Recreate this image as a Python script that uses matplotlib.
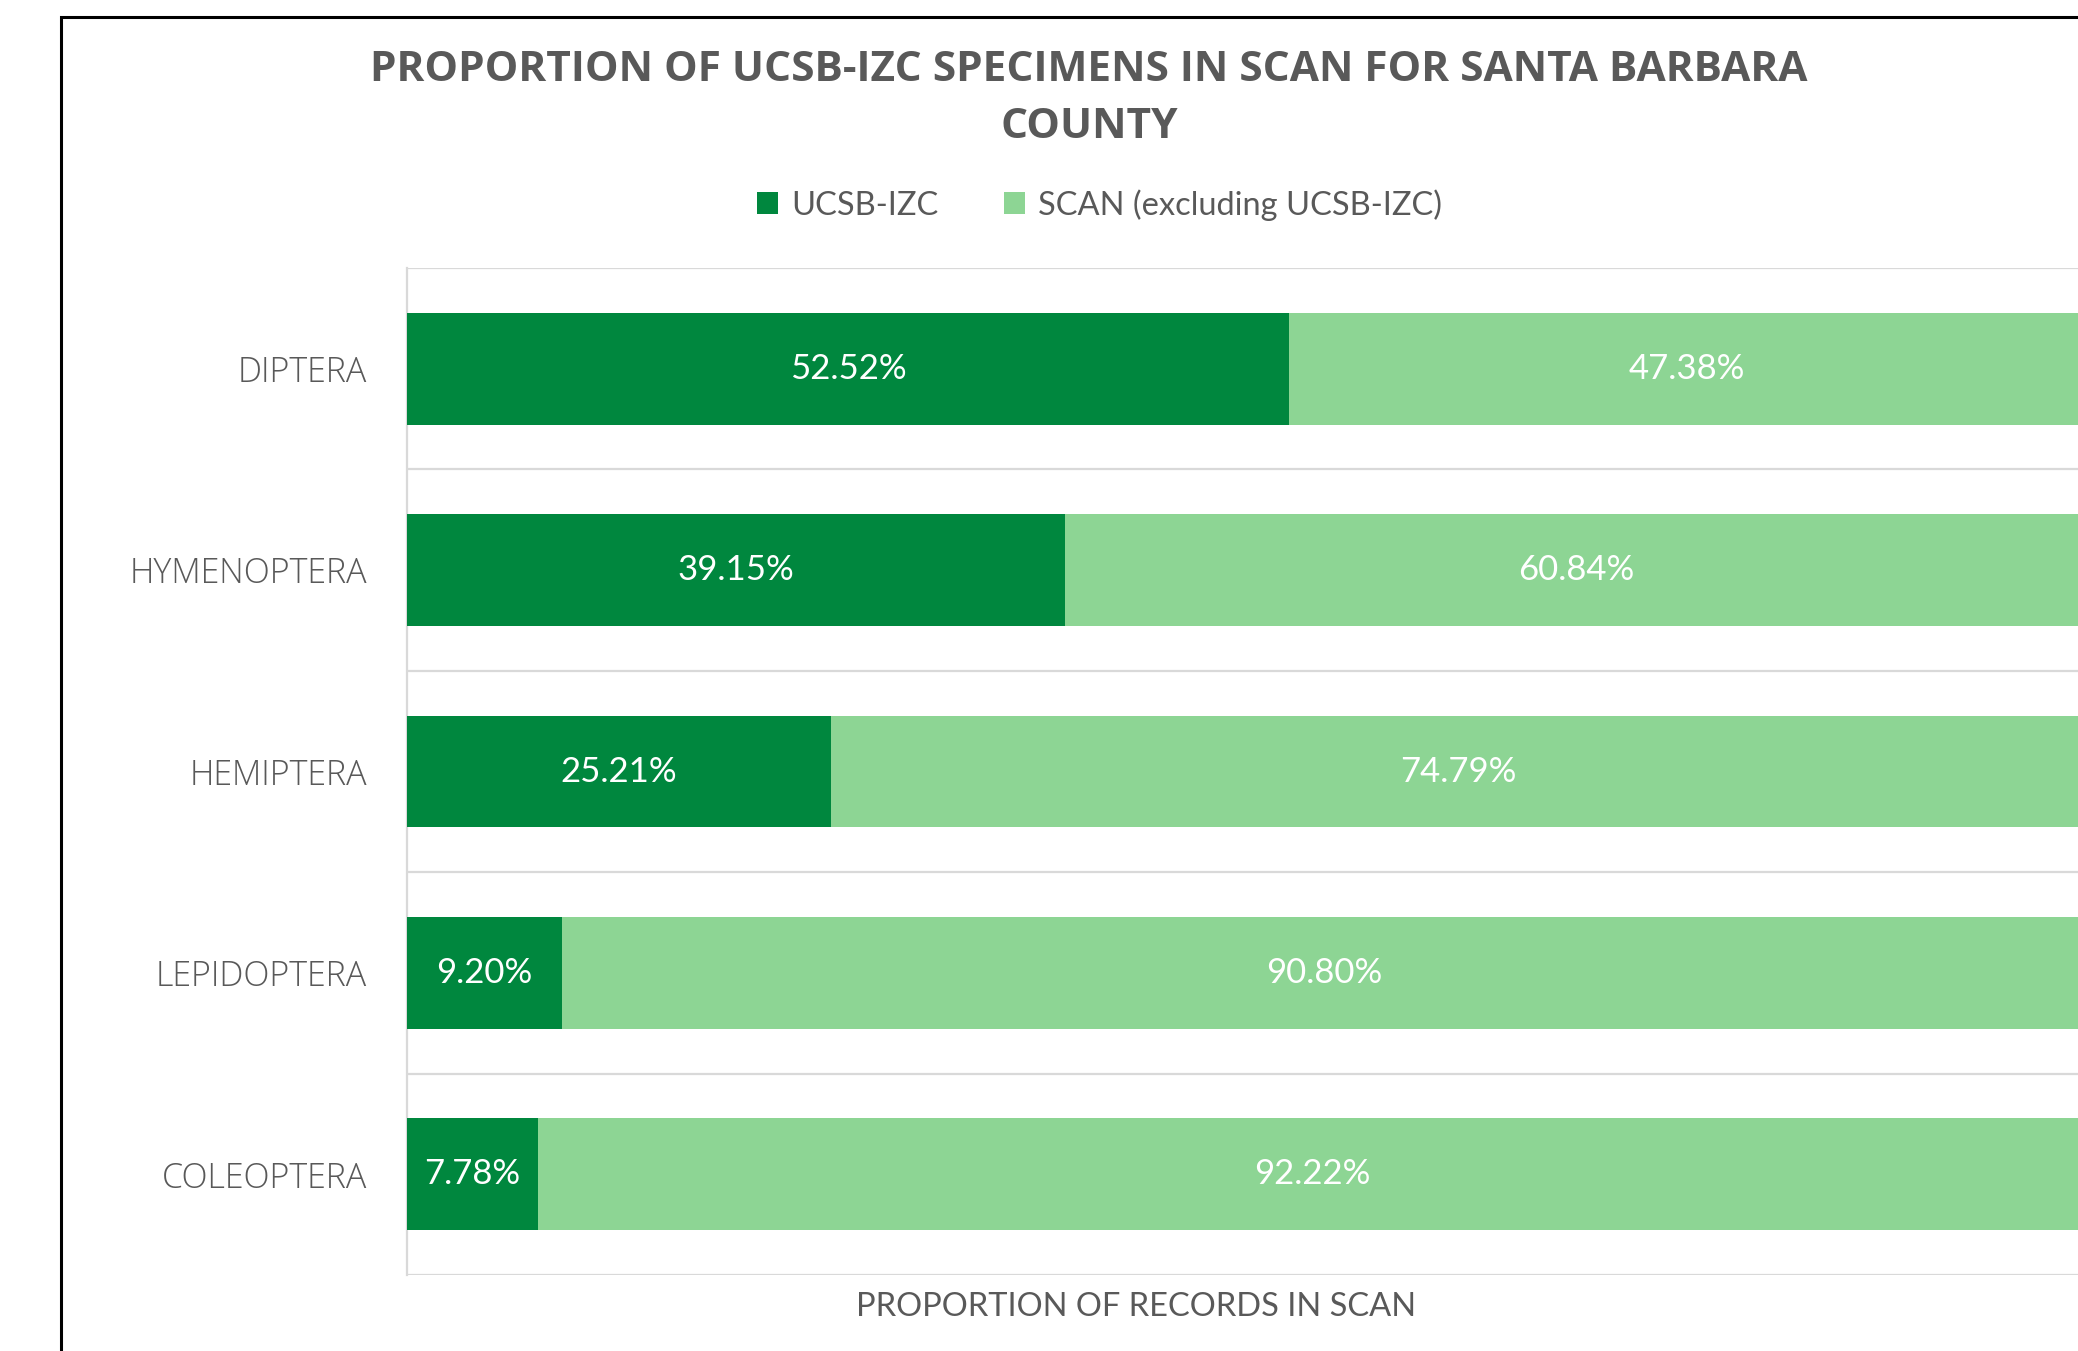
import matplotlib
matplotlib.use("Agg")
import matplotlib.pyplot as plt
from matplotlib.patches import Patch, Rectangle

categories = ["DIPTERA", "HYMENOPTERA", "HEMIPTERA", "LEPIDOPTERA", "COLEOPTERA"]
ucsb_izc = [52.52, 39.15, 25.21, 9.20, 7.78]
scan_excl = [47.38, 60.84, 74.79, 90.80, 92.22]
series_names = ["UCSB-IZC", "SCAN (excluding UCSB-IZC)"]
title = "PROPORTION OF UCSB-IZC SPECIMENS IN SCAN FOR SANTA BARBARA\nCOUNTY"
xlabel = "PROPORTION OF RECORDS IN SCAN"

DARK = "#00873E"
LIGHT = "#8DD594"
GRAY = "#595959"
GRID = "#D9D9D9"
FONT = ["Lato", "DejaVu Sans"]
WIDE = ["Open Sans", "DejaVu Sans"]

plt.rcParams["font.family"] = FONT

W, H = 2078, 1351
fig = plt.figure(figsize=(W / 100, H / 100), dpi=100)
fig.patch.set_facecolor("white")

# outer chart border (extends past right/bottom edges)
fig.patches.append(Rectangle((61 / W, -0.1), 1.2, 1 - 17 / H + 0.1,
                             transform=fig.transFigure, fill=False,
                             edgecolor="black", linewidth=2.2, zorder=0))

left, right, bottom, top = 407, 2087, 1275, 268
ax = fig.add_axes([left / W, 1 - bottom / H, (right - left) / W, (bottom - top) / H])

y = list(range(len(categories)))
b1 = ax.barh(y, ucsb_izc, height=0.555, color=DARK, zorder=3)
b2 = ax.barh(y, scan_excl, left=ucsb_izc, height=0.555, color=LIGHT, zorder=3)
for bars in (b1, b2):
    ax.bar_label(bars, labels=[f"{v:.2f}%" for v in bars.datavalues],
                 label_type="center", color="white", fontsize=25, family=FONT)

ax.set_xlim(0, 100)
ax.set_ylim(len(categories) - 0.5, -0.5)
for k in range(len(categories) + 1):
    ax.axhline(k - 0.5, color=GRID, linewidth=1.6, zorder=1)

for s in ["top", "right", "bottom"]:
    ax.spines[s].set_visible(False)
ax.spines["left"].set_color(GRID)
ax.spines["left"].set_linewidth(1.6)

ax.set_yticks(y)
ax.set_yticklabels(categories, fontsize=24.5, color=GRAY, family=WIDE, fontweight="light")
ax.tick_params(axis="y", length=0, pad=29)
ax.set_xticks([])

fig.text(0.524, 1 - 99 / H, title, ha="center", va="center", fontsize=30.5,
         fontweight="bold", color=GRAY, linespacing=1.5, family=WIDE)

fig.text(857 * 1.3253 / W, 1 - 1307 / H, xlabel, ha="center", va="center",
         fontsize=23.5, color=GRAY)

handles = [Patch(facecolor=DARK), Patch(facecolor=LIGHT)]
fig.legend(handles, series_names, loc="center", bbox_to_anchor=(0.529, 1 - 205 / H),
           ncol=2, frameon=False, fontsize=23.5, labelcolor=GRAY,
           handlelength=0.65, handleheight=0.65, handletextpad=0.4, columnspacing=2.0)

fig.savefig("out.png", dpi=100)
